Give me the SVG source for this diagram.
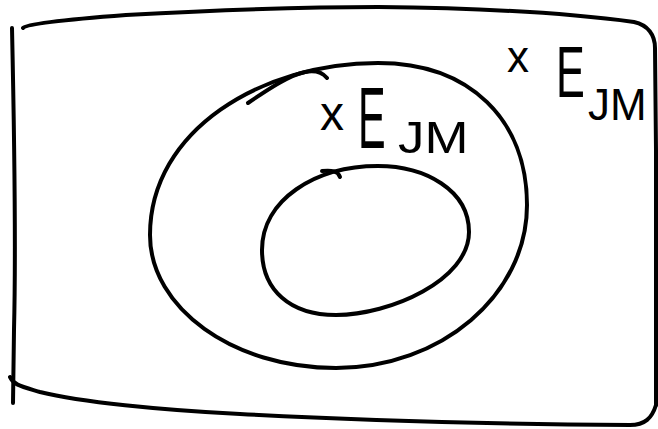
<svg xmlns="http://www.w3.org/2000/svg" width="658" height="429" viewBox="0 0 658 429">
  <style>
    .ink { fill: none; stroke: #000; stroke-width: 4; stroke-linecap: round; stroke-linejoin: round; }
    .lbl { font-family: "Liberation Sans", Arial, sans-serif; fill: #000; }
  </style>
  <rect width="658" height="429" fill="#fff"/>
  <g id="universe">
    <path class="ink" d="M12,28 C14,120 16,250 14,330 L13,403"/>
    <path class="ink" d="M23,28 C26,24 60,20 126,15 C220,10 300,7 378,7 C480,8 560,12 634,22 C648,25 655,35 655,48 L656,150 C656,250 656,340 656,405"/>
    <path class="ink" d="M10,377 C14,385 20,386 40,392 C80,402 160,410 240,414 C350,420 500,424 630,425 C645,425 652,418 656,405"/>
  </g>
  <g id="outer-set">
    <path class="ink" d="M378,63 C470,63 527,120 527,205 C527,295 441,368 336,368 C233,368 150,308 150,235 C150,130 262,63 378,63 Z"/>
    <path class="ink" d="M248,103 C270,88 290,75 305,72 C315,70 322,72 327,78"/>
  </g>
  <g id="inner-set">
    <path class="ink" d="M378,166 C425,166 469,190 469,232 C469,280 390,315 336,315 C290,315 262,290 262,250 C262,200 315,166 378,166 Z"/>
    <path class="ink" d="M322,171 C332,170 338,171 340,177"/>
  </g>
  <g id="label-inner">
    <text class="lbl" x="320" y="130" font-size="48">x</text>
    <text class="lbl" font-size="88" transform="translate(358,148) scale(0.47,1)">E</text>
    <text class="lbl" font-size="44" transform="translate(398,153) scale(1.2,1)">JM</text>
  </g>
  <g id="label-outer">
    <text class="lbl" x="507" y="72" font-size="44">x</text>
    <text class="lbl" font-size="72" transform="translate(556,97) scale(0.6,1)">E</text>
    <text class="lbl" font-size="44" transform="translate(588,120) scale(1.0,1)">JM</text>
  </g>
</svg>
